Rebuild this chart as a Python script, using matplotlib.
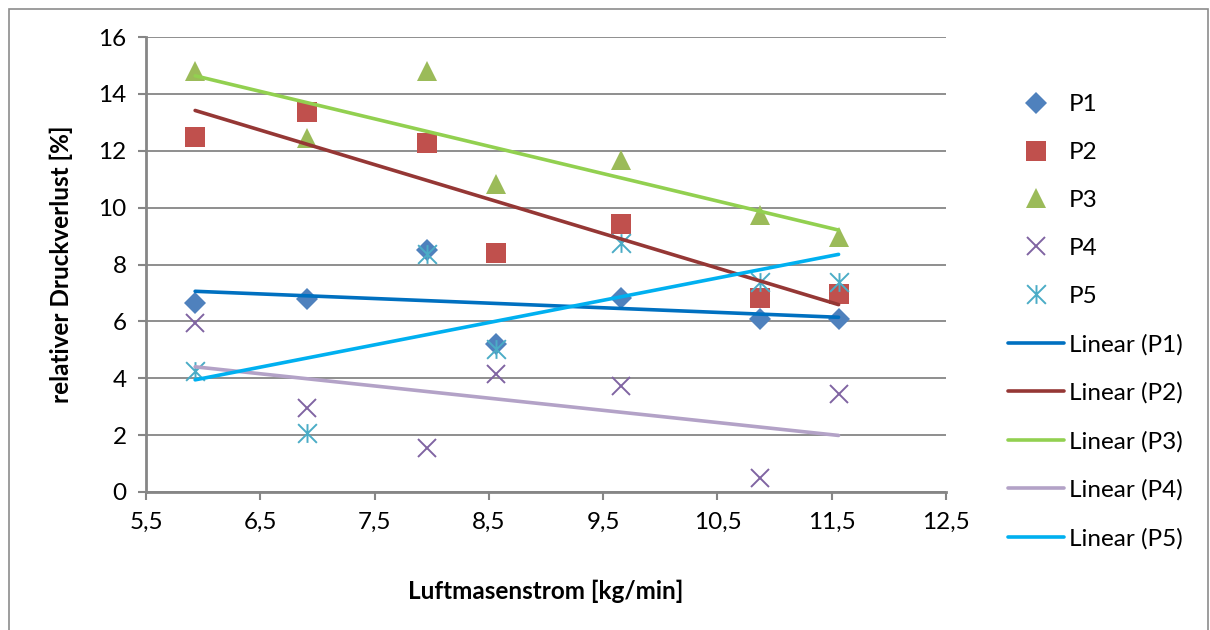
import numpy as np
import matplotlib
matplotlib.use("Agg")
import matplotlib.pyplot as plt
from matplotlib.path import Path
from matplotlib.patches import Rectangle

plt.rcParams["font.family"] = ["Lato", "DejaVu Sans"]

# Luftmassenstrom [kg/min]
x = [5.93, 6.91, 7.955, 8.56, 9.66, 10.87, 11.56]

# relativer Druckverlust [%]
p1 = [6.66, 6.78, 8.52, 5.22, 6.81, 6.10, 6.08]
p2 = [12.50, 13.38, 12.27, 8.39, 9.43, 6.81, 6.96]
p3 = [14.79, 12.46, 14.79, 10.82, 11.68, 9.73, 8.97]
p4 = [5.95, 2.97, 1.56, 4.14, 3.73, 0.48, 3.44]
p5 = [4.25, 2.06, 8.38, 5.02, 8.75, 7.40, 7.37]

names = ["P1", "P2", "P3", "P4", "P5"]
series = [p1, p2, p3, p4, p5]

marker_colors = ["#4F81BD", "#C0504D", "#9BBB59", "#8064A2", "#4BACC6"]
trend_colors = ["#0070C0", "#953735", "#92D050", "#B3A2C7", "#00B0F0"]

# Excel-Sternmarker: x mit senkrechtem Strich
star = Path([(-0.5, -0.5), (0.5, 0.5), (-0.5, 0.5), (0.5, -0.5), (0, -0.5), (0, 0.5)],
            [Path.MOVETO, Path.LINETO, Path.MOVETO, Path.LINETO, Path.MOVETO, Path.LINETO])
markers = ["D", "s", "^", "x", star]
msizes = [11.5, 14.0, 14.5, 13.5, 13.5]

W, H = 1210, 630
fig = plt.figure(figsize=(W / 100, H / 100), dpi=100)
ax = fig.add_axes([146 / W, (H - 492) / H, 800 / W, 455 / H])

grid_c = "#868686"
xa = np.array(x)
handles_pts, handles_lin = [], []
for ys, m, ms, mc in zip(series, markers, msizes, marker_colors):
    lined = m == "x" or m is star
    h, = ax.plot(x, ys, linestyle="none", marker=m, markersize=ms, color=mc,
                 markeredgewidth=1.4 if lined else 0, zorder=3)
    handles_pts.append(h)

for ys, tc in zip(series, trend_colors):
    k, d = np.polyfit(xa, np.array(ys), 1)
    xs = np.array([xa.min(), xa.max()])
    h, = ax.plot(xs, k * xs + d, color=tc, linewidth=2.6, solid_capstyle="round", zorder=4)
    handles_lin.append(h)

ax.set_xlim(5.5, 12.5)
ax.set_ylim(0, 16)
xt = np.arange(5.5, 12.6, 1.0)
ax.set_xticks(xt)
ax.set_xticklabels([f"{v:.1f}".replace(".", ",") for v in xt])
ax.set_yticks(np.arange(0, 17, 2))
ax.yaxis.grid(True, color=grid_c, linewidth=1.3)
ax.set_axisbelow(True)
for s in ["top", "right"]:
    ax.spines[s].set_visible(False)
for s in ["left", "bottom"]:
    ax.spines[s].set_color(grid_c)
    ax.spines[s].set_linewidth(2.0)
ax.tick_params(axis="both", direction="out", color=grid_c, width=1.5, length=6,
               labelsize=17.5, pad=8)

ax.set_xlabel("Luftmasenstrom [kg/min]", fontsize=17.5, fontweight="bold", labelpad=34)
ax.set_ylabel("relativer Druckverlust [%]", fontsize=17.5, fontweight="bold", labelpad=18)

leg = fig.legend(handles_pts + handles_lin, names + [f"Linear ({n})" for n in names],
                 loc="upper left", bbox_to_anchor=(1008 / W, 1 - 94 / H),
                 frameon=False, fontsize=17.5, handlelength=2.3, handletextpad=0.2,
                 labelspacing=1.11, borderaxespad=0, borderpad=0)

fig.add_artist(Rectangle((9 / W, -0.05), 1199 / W, (H - 9) / H + 0.05,
                         transform=fig.transFigure, fill=False,
                         edgecolor="#8C8C8C", linewidth=1.2))

fig.savefig("out.png", dpi=100)
